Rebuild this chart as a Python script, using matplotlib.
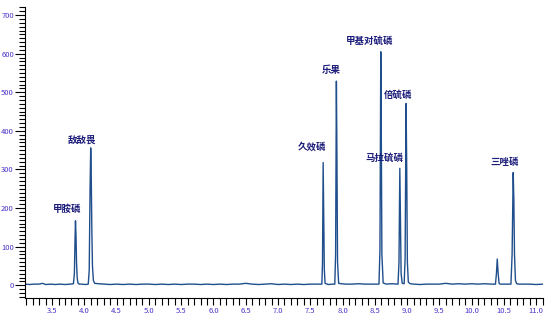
import matplotlib
matplotlib.use('Agg')
import matplotlib.pyplot as plt
import numpy as np
from matplotlib.ticker import MultipleLocator

plt.rcParams['font.family'] = ['Noto Sans CJK SC', 'DejaVu Sans']

# baseline samples (min) / signal
base_t = [3.08, 3.15, 3.22, 3.30, 3.35, 3.40, 3.48, 3.55, 3.62, 3.70, 3.78,
          3.95, 4.02,
          4.22, 4.30, 4.40, 4.50, 4.60, 4.70, 4.80, 4.90, 5.00, 5.10, 5.20, 5.30,
          5.40, 5.50, 5.60, 5.70, 5.80, 5.90, 6.00, 6.10, 6.20, 6.30, 6.40, 6.50,
          6.60, 6.70, 6.80, 6.90, 7.00, 7.10, 7.20, 7.30, 7.40, 7.50, 7.60, 7.66,
          7.78, 7.85,
          7.98, 8.05, 8.15, 8.25, 8.35, 8.45, 8.54,
          8.68, 8.76, 8.84,
          9.10, 9.20, 9.30, 9.40, 9.50, 9.60, 9.70, 9.80, 9.90, 10.00, 10.10,
          10.20, 10.30, 10.36,
          10.48, 10.56,
          10.74, 10.80, 10.90, 11.00, 11.11]
base_y = [3, 2, 3, 3, 5, 2, 3, 2, 3, 2, 3,
          3, 2,
          4, 3, 2, 3, 2, 3, 2, 3, 3, 2, 3, 2,
          3, 2, 3, 3, 2, 3, 2, 3, 2, 3, 3, 5,
          3, 2, 3, 4, 2, 3, 2, 3, 2, 3, 3, 3,
          2, 3,
          4, 3, 3, 4, 3, 3, 3,
          3, 4, 3,
          3, 2, 3, 3, 3, 5, 3, 4, 3, 4, 3,
          4, 3, 3,
          3, 3,
          3, 3, 3, 2, 3]

# peaks
peak_t = [3.83, 3.845, 3.855, 3.862, 3.870, 3.878, 3.888, 3.900, 3.92,
          4.06, 4.075, 4.088, 4.098, 4.105, 4.115, 4.125, 4.14, 4.16,
          7.68, 7.69, 7.700, 7.708, 7.718, 7.73,
          7.88, 7.893, 7.905, 7.913, 7.923, 7.94,
          8.565, 8.58, 8.593, 8.600, 8.61, 8.63,
          8.86, 8.875, 8.888, 8.897, 8.908, 8.925,
          8.955, 8.97, 8.985, 8.995, 9.005, 9.02, 9.05,
          10.37, 10.385, 10.398, 10.41, 10.425, 10.44,
          10.61, 10.628, 10.645, 10.655, 10.665, 10.68, 10.70]
peak_y = [4, 30, 120, 167, 130, 60, 20, 6, 3,
          3, 40, 250, 356, 300, 150, 50, 12, 5,
          3, 60, 318, 200, 40, 5,
          3, 80, 529, 350, 60, 5,
          3, 90, 605, 420, 80, 6,
          3, 60, 303, 180, 30, 5,
          4, 70, 471, 300, 60, 8, 4,
          3, 30, 68, 35, 6, 3,
          3, 80, 292, 220, 80, 12, 4]

names = ['甲胺磷', '敌敌畏', '久效磷', '乐果', '甲基对硫磷', '马拉硫磷', '倍硫磷', '三唑磷']
name_x = [3.73, 3.96, 7.53, 7.82, 8.42, 8.65, 8.86, 10.51]
name_y = [198, 376, 359, 558, 633, 331, 493, 320]

t = np.array(base_t + peak_t)
y = np.array(base_y + peak_y)
order = np.argsort(t)

fig = plt.figure(figsize=(5.56, 3.19), dpi=100)
ax = fig.add_axes([0.045, 0.067, 0.932, 0.911])
ax.plot(t[order], y[order], color='#1f4e8c', lw=1.0)

for n, x0, y0 in zip(names, name_x, name_y):
    ax.text(x0, y0, n, ha='center', va='center', fontsize=6.8,
            fontweight='bold', color='#1c1c7a')

ax.set_xlim(3.08, 11.11)
ax.set_ylim(-32, 721)
ax.spines['top'].set_visible(False)
ax.spines['right'].set_visible(False)
ax.xaxis.set_major_locator(MultipleLocator(0.5))
ax.xaxis.set_minor_locator(MultipleLocator(0.1))
ax.yaxis.set_major_locator(MultipleLocator(100))
ax.yaxis.set_minor_locator(MultipleLocator(10))
ax.set_xticks(np.arange(3.5, 11.01, 0.5))
ax.tick_params(axis='x', which='both', length=5, width=0.8, labelsize=5.5,
               labelcolor='#4b33c8', pad=2)
ax.tick_params(axis='y', which='major', length=7, width=0.8, labelsize=5.5,
               labelcolor='#4b33c8', pad=1)
ax.tick_params(axis='y', which='minor', length=4, width=0.8)
ax.set_yticks(np.arange(0, 701, 100))

fig.savefig('out.png', dpi=100)
